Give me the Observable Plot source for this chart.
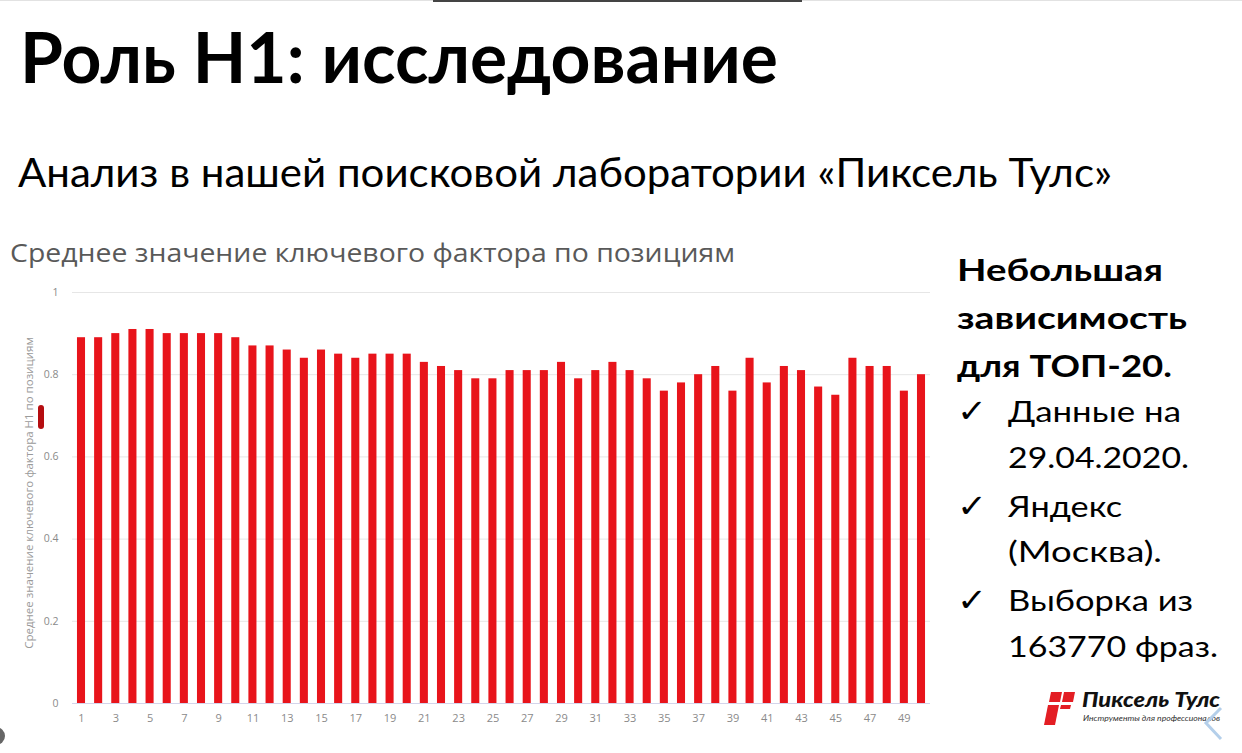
<!DOCTYPE html>
<html>
<head>
<meta charset="utf-8">
<script src="https://cdn.jsdelivr.net/npm/d3@7"></script>
<script src="https://cdn.jsdelivr.net/npm/@observablehq/plot@0.6"></script>
<style>
  html, body { margin: 0; padding: 0; background: #fff; }
  #page { position: relative; width: 1242px; height: 753px; overflow: hidden; background: #fff; }
  #deco { position: absolute; left: 0; top: 0; }
  #chart { position: absolute; left: 0; top: 280px; }
</style>
</head>
<body>
<div id="page">
  <svg id="deco" width="1242" height="753" xmlns="http://www.w3.org/2000/svg">
    <rect x="0" y="0" width="1242" height="1" fill="#e2e2e2"/>
    <rect x="433" y="0" width="369" height="2" fill="#444"/>
    <circle cx="-4" cy="736" r="9" fill="#666"/>
    <text x="20" y="83" font-family="Lato" font-weight="700" font-size="71" fill="#000" textLength="758" lengthAdjust="spacingAndGlyphs">Роль H1: исследование</text>
    <text x="18" y="187" font-family="Lato" font-weight="400" font-size="40" fill="#000" textLength="1094" lengthAdjust="spacingAndGlyphs">Анализ в нашей поисковой лаборатории «Пиксель Тулс»</text>
    <text x="10" y="262" font-family="Open Sans" font-weight="400" font-size="26" fill="#595959" textLength="725" lengthAdjust="spacingAndGlyphs">Среднее значение ключевого фактора по позициям</text>
    <g font-family="Lato" font-weight="700" font-size="31" fill="#000">
      <text x="957" y="281" textLength="206" lengthAdjust="spacingAndGlyphs">Небольшая</text>
      <text x="957" y="329" textLength="230" lengthAdjust="spacingAndGlyphs">зависимость</text>
      <text x="957" y="377" textLength="215" lengthAdjust="spacingAndGlyphs">для ТОП-20.</text>
    </g>
    <g font-family="DejaVu Sans" font-size="32" fill="#000">
      <text x="957" y="422" textLength="30" lengthAdjust="spacingAndGlyphs">✓</text>
      <text x="957" y="517" textLength="30" lengthAdjust="spacingAndGlyphs">✓</text>
      <text x="957" y="611" textLength="30" lengthAdjust="spacingAndGlyphs">✓</text>
    </g>
    <g font-family="Lato" font-weight="400" font-size="29" fill="#000">
      <text x="1008" y="422" textLength="173" lengthAdjust="spacingAndGlyphs">Данные на</text>
      <text x="1008" y="468" textLength="181" lengthAdjust="spacingAndGlyphs">29.04.2020.</text>
      <text x="1008" y="517" textLength="114" lengthAdjust="spacingAndGlyphs">Яндекс</text>
      <text x="1008" y="562" textLength="154" lengthAdjust="spacingAndGlyphs">(Москва).</text>
      <text x="1008" y="611" textLength="185" lengthAdjust="spacingAndGlyphs">Выборка из</text>
      <text x="1008" y="657" textLength="210" lengthAdjust="spacingAndGlyphs">163770 фраз.</text>
    </g>
    <!-- logo -->
    <g fill="#e31e24">
      <polygon points="1051,692 1062,692 1060,702 1049,702"/>
      <polygon points="1064,692 1075,692 1073,702 1062,702"/>
      <polygon points="1048,705 1059,705 1055,725 1044,725"/>
      <polygon points="1061,705 1071,705 1070,709 1060,709"/>
    </g>
    <text x="1082" y="707" font-family="Lato" font-weight="900" font-style="italic" font-size="20" fill="#111" textLength="138" lengthAdjust="spacingAndGlyphs">Пиксель Тулс</text>
    <text x="1083" y="721" font-family="Lato" font-style="italic" font-size="7.5" fill="#333" textLength="137" lengthAdjust="spacingAndGlyphs">Инструменты для профессионалов</text>
    <polyline points="1221,708 1206,723 1221,739" fill="none" stroke="#b4cfea" stroke-width="3"/>
    <!-- legend marker -->
    <rect x="38" y="405" width="6" height="24" rx="3" fill="#b50d10"/>
  </svg>
  <div id="chart"></div>
</div>
<script>
const positions = [1,2,3,4,5,6,7,8,9,10,11,12,13,14,15,16,17,18,19,20,21,22,23,24,25,26,27,28,29,30,31,32,33,34,35,36,37,38,39,40,41,42,43,44,45,46,47,48,49,50];
const values = [0.89,0.89,0.90,0.91,0.91,0.90,0.90,0.90,0.90,0.89,
                0.87,0.87,0.86,0.84,0.86,0.85,0.84,0.85,0.85,0.85,
                0.83,0.82,0.81,0.79,0.79,0.81,0.81,0.81,0.83,0.79,
                0.81,0.83,0.81,0.79,0.76,0.78,0.80,0.82,0.76,0.84,
                0.78,0.82,0.81,0.77,0.75,0.84,0.82,0.82,0.76,0.80];
const xTickLabels = [1,3,5,7,9,11,13,15,17,19,21,23,25,27,29,31,33,35,37,39,41,43,45,47,49];
const yTicks = [0, 0.2, 0.4, 0.6, 0.8, 1];
const yTickLabels = ["0", "0.2", "0.4", "0.6", "0.8", "1"];
const yLabel = "Среднее значение ключевого фактора H1 по позициям";

const data = positions.map((p, i) => ({position: p, value: values[i]}));

const chart = Plot.plot({
  width: 940,
  height: 450,
  marginLeft: 72,
  marginRight: 10,
  marginTop: 12,
  marginBottom: 27,
  style: {fontFamily: "Open Sans", background: "transparent", color: "#8a8a8a", overflow: "visible"},
  x: {type: "band", domain: positions, paddingInner: 0.53, paddingOuter: 0.29, round: false, axis: null},
  y: {domain: [0, 1], axis: null},
  marks: [
    Plot.gridY(yTicks, {stroke: "#e6e6e6", strokeOpacity: 1}),
    Plot.barY(data, {x: "position", y: "value", fill: "#e8141b"}),
    Plot.ruleY([0], {stroke: "#d4d4ea"}),
    Plot.axisY(yTicks, {tickSize: 0, tickPadding: 14, fontSize: 10.5, fill: "#8a8a8a", label: null,
      tickFormat: d => yTickLabels[yTicks.indexOf(d)]}),
    Plot.axisX(xTickLabels, {tickSize: 0, tickPadding: 11, fontSize: 11, fill: "#8a8a8a", label: null}),
    Plot.text([yLabel], {frameAnchor: "left", textAnchor: "middle", dx: -43, dy: -5, rotate: -90, fontSize: 11.5, fill: "#9a9a9a"})
  ]
});
document.getElementById("chart").appendChild(chart);
</script>
</body>
</html>
